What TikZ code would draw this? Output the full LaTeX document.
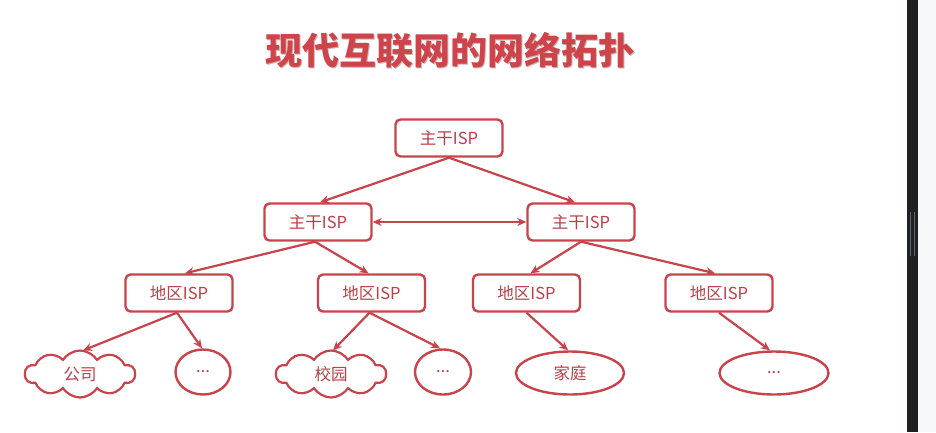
\documentclass[tikz,border=0pt]{standalone}
\usepackage{fontspec}
\setmainfont{Noto Sans CJK SC}
\newfontfamily\cjk{Noto Sans CJK SC}
\usetikzlibrary{shapes.symbols,shapes.geometric,arrows.meta,calc}
\definecolor{lred}{HTML}{C8434B}
\definecolor{tred}{HTML}{B93F48}
\definecolor{titlered}{HTML}{CF444B}
\definecolor{barbg}{HTML}{1F2023}
\definecolor{sidebg}{HTML}{F7F8FA}
\definecolor{gripc}{HTML}{5E6870}
\tikzset{
  isp/.style={draw=lred, line width=2.4pt, rounded corners=5pt, fill=white,
    minimum width=107pt, minimum height=37pt, inner sep=0pt,
    text=tred, font=\cjk\fontsize{16.5}{16.5}\selectfont},
  cloudleaf/.style={cloud, cloud puffs=10, cloud puff arc=115, aspect=2.5,
    draw=lred, line width=2.2pt, minimum width=110pt, minimum height=47pt, inner sep=0pt,
    text=tred, font=\cjk\fontsize{16.5}{16.5}\selectfont},
  ovalleaf/.style={ellipse, draw=lred, line width=2.4pt, inner sep=0pt,
    text=tred, font=\cjk\fontsize{16.5}{16.5}\selectfont},
  conn/.style={draw=lred, line width=2.2pt, -{Stealth[length=9pt,width=8pt]}},
  dconn/.style={draw=lred, line width=2.2pt, {Stealth[length=9pt,width=8pt]}-{Stealth[length=9pt,width=8pt]}}
}
\begin{document}
\begin{tikzpicture}[x=1pt,y=-1pt]
\useasboundingbox (0,0) rectangle (936,432);
\fill[white] (0,0) rectangle (907,432);
\fill[barbg] (907,0) rectangle (918,432);
\fill[sidebg] (918,0) rectangle (936,432);
\draw[gripc, line width=0.8pt] (910.5,212) -- (910.5,256);
\draw[gripc, line width=0.8pt] (914.5,212) -- (914.5,256);

\node[text=titlered!60!black, opacity=0.35, font=\cjk\bfseries\fontsize{37}{37}\selectfont] at (451.5,51.5) {现代互联网的网络拓扑};
\node (title) [text=titlered, font=\cjk\bfseries\fontsize{37}{37}\selectfont] at (450,50) {现代互联网的网络拓扑};

\node[isp] (t) at (449,138) {主干ISP};
\node[isp] (m1) at (318,222) {主干ISP};
\node[isp] (m2) at (581,222) {主干ISP};
\node[isp] (r1) at (179,293) {地区ISP};
\node[isp] (r2) at (371.5,293) {地区ISP};
\node[isp] (r3) at (526.5,293) {地区ISP};
\node[isp] (r4) at (719,293) {地区ISP};

\node[cloudleaf] (l1) at (80,374) {公司};
\node[ovalleaf, minimum width=55pt, minimum height=45pt] (l2) at (203,372) {...};
\node[cloudleaf] (l3) at (331,374) {校园};
\node[ovalleaf, minimum width=56pt, minimum height=45pt] (l4) at (443,372) {...};
\node[ovalleaf, minimum width=108pt, minimum height=43pt] (l5) at (570,373) {家庭};
\node[ovalleaf, minimum width=109pt, minimum height=43pt] (l6) at (774,373) {...};

\draw[conn] (t.south) -- ([xshift=2pt]m1.north);
\draw[conn] (t.south) -- ([xshift=-6pt]m2.north);
\draw[dconn] (m1.east) -- (m2.east -| m2.west);
\draw[conn] ([xshift=-3pt]m1.south) -- ([xshift=6pt]r1.north);
\draw[conn] ([xshift=-3pt]m1.south) -- ([xshift=-3pt]r2.north);
\draw[conn] (m2.south) -- ([xshift=4pt]r3.north);
\draw[conn] (m2.south) -- ([xshift=-4pt]r4.north);
\draw[conn] ([xshift=-2pt]r1.south) -- ([xshift=3pt,yshift=-1pt]l1.north);
\draw[conn] ([xshift=-2pt]r1.south) -- ([xshift=-1pt]l2.north);
\draw[conn] ([xshift=-2pt]r2.south) -- ([xshift=2pt,yshift=-1pt]l3.north);
\draw[conn] ([xshift=-2pt]r2.south) -- ([xshift=-3pt]l4.north);
\draw[conn] (r3.south) -- ([xshift=-2pt]l5.north);
\draw[conn] (r4.south) -- ([xshift=-4pt]l6.north);
\end{tikzpicture}
\end{document}
